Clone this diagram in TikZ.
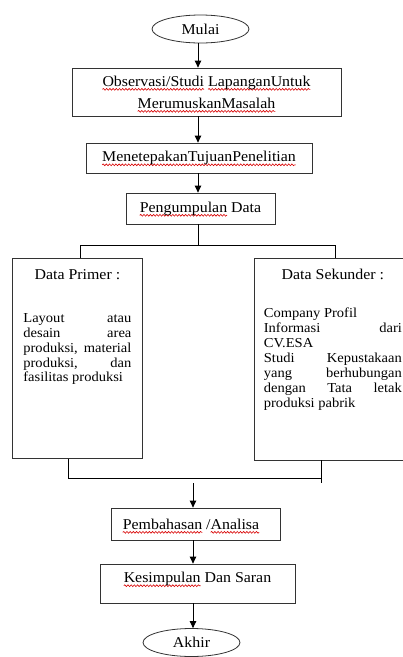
\documentclass[tikz,border=0pt]{standalone}
\usepackage{fontspec}
\setmainfont{Liberation Serif}[FakeStretch=1.06]
\usetikzlibrary{shapes.geometric,arrows.meta,decorations.pathmorphing}
\newcommand\fbig{\fontsize{15}{17}\selectfont}
\newcommand\fbody{\fontsize{13.7}{14.9}\selectfont}
\newsavebox\sqbox
\newcommand\sq[1]{\sbox\sqbox{#1}\rlap{\tikz[overlay,baseline=0pt,x=1pt,y=1pt]\draw[red!85!black, line width=0.6pt, decorate, decoration={snake, amplitude=0.9pt, segment length=3.2pt}] (0,-3.2) -- (\the\wd\sqbox,-3.2);}\usebox\sqbox}
\tikzset{
  flowbox/.style={draw=black!80, line width=0.8pt, inner sep=0pt, font=\fbig, align=center},
  term/.style={draw=black!80, ellipse, line width=0.8pt, minimum width=97pt, minimum height=28pt, inner sep=0pt, font=\fbig},
  arr/.style={-{Triangle[length=7pt,width=6.5pt]}, line width=0.9pt},
  link/.style={line width=0.9pt},
  databox/.style={draw=black!80, line width=0.8pt, inner ysep=0pt, anchor=north west}
}
\begin{document}
\begin{tikzpicture}[x=1pt,y=-1pt]
\useasboundingbox (0,0) rectangle (403,657);
\fill[white] (0,0) rectangle (403,657);

\node[term] (mulai) at (200.5,29) {Mulai};
\node[flowbox, minimum width=269pt, minimum height=48pt] (obs) at (206.5,92)
  {\sq{Observasi/Studi} \sq{LapanganUntuk}\\[5pt]\sq{MerumuskanMasalah}};
\node[flowbox, minimum width=226pt, minimum height=30pt] (tuj) at (199,158)
  {\sq{MenetepakanTujuanPenelitian}};
\node[flowbox, minimum width=149pt, minimum height=31pt] (peng) at (200.5,208.5)
  {\sq{Pengumpulan} Data};

\node[databox, inner xsep=11pt] (prim) at (12,258) {\parbox[t][200pt][t]{108pt}{%
  \centering\fbig\rule{0pt}{21pt}Data Primer :\par
  \vspace{28pt}\raggedright\fbody
  \makebox[\linewidth][s]{Layout atau}\\
  \makebox[\linewidth][s]{desain area}\\
  \makebox[\linewidth][s]{produksi, material}\\
  \makebox[\linewidth][s]{produksi, dan}\\
  fasilitas produksi}};

\node[databox, inner xsep=10pt] (sek) at (253.5,258) {\parbox[t][201.5pt][t]{138pt}{%
  \centering\fbig\rule{0pt}{21.5pt}Data Sekunder :\par
  \vspace{23pt}\raggedright\fbody
  Company Profil\\
  \makebox[\linewidth][s]{Informasi dari}\\
  CV.ESA\\
  \makebox[\linewidth][s]{Studi Kepustakaan}\\
  \makebox[\linewidth][s]{yang berhubungan}\\
  \makebox[\linewidth][s]{dengan Tata letak}\\
  produksi pabrik}};

\node[flowbox, minimum width=169pt, minimum height=32pt] (bahas) at (195.5,524)
  {\sq{Pembahasan} /\sq{Analisa}\hspace*{9pt}};
\node[flowbox, minimum width=195pt, minimum height=39pt, text height=8pt, text depth=10pt] (kes) at (197.5,583.5)
  {\sq{Kesimpulan} Dan Saran};
\node[term] (akhir) at (191.5,642.5) {Akhir};

% connector coordinates
\coordinate (cx) at (198,0);
\coordinate (jt) at (198,245);
\coordinate (lx) at (80,245);
\coordinate (rx) at (335,245);
\coordinate (bl) at (68,478.3);
\coordinate (br) at (321.7,478.3);
\coordinate (bre) at (321.7,482.7);
\coordinate (ax) at (193,483.3);

\draw[arr] (mulai.south -| cx) -- (obs.north -| cx);
\draw[arr] (obs.south -| cx) -- (tuj.north -| cx);
\draw[arr] (tuj.south -| cx) -- (peng.north -| cx);
\draw[link] (peng.south -| cx) -- (jt);
\draw[link] (lx |- prim.north) -- (lx) -- (rx) -- (rx |- sek.north);
\draw[link] (bl |- prim.south) -- (bl) -- (br);
\draw[link] (br |- sek.south) -- (bre);
\draw[arr] (ax) -- (bahas.north -| ax);
\draw[arr] (bahas.south -| ax) -- (kes.north -| ax);
\draw[arr] (kes.south -| ax) -- (akhir.north -| ax);
\end{tikzpicture}
\end{document}
